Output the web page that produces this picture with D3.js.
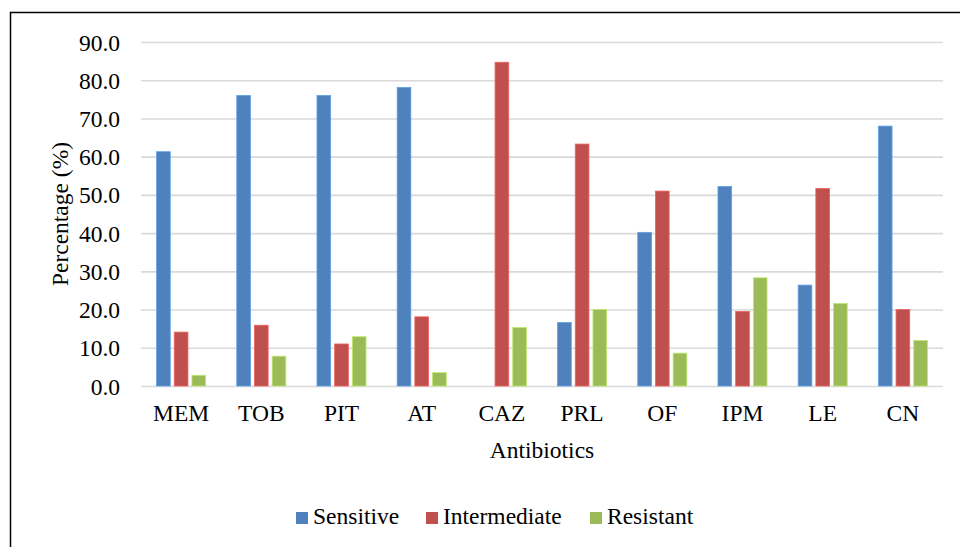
<!DOCTYPE html>
<html lang="en">
<head>
<meta charset="UTF-8">
<title>Antibiotic susceptibility</title>
<script src="https://d3js.org/d3.v7.min.js"></script>
<style>
  body { margin: 0; padding: 0; background: #fff; }
  svg text { font-family: "Liberation Serif", "Times New Roman", serif !important; fill: #000; }
</style>
</head>
<body>
<div id="chart"></div>
<script>
// data
const antibiotics = ["MEM", "TOB", "PIT", "AT", "CAZ", "PRL", "OF", "IPM", "LE", "CN"];
const seriesNames = ["Sensitive", "Intermediate", "Resistant"];
const sensitive    = [61.3, 76.0, 76.0, 78.1, 0.0, 16.6, 40.2, 52.2, 26.4, 68.0];
const intermediate = [14.1, 15.9, 11.0, 18.1, 84.7, 63.3, 51.0, 19.5, 51.7, 20.0];
const resistant    = [2.8, 7.8, 12.9, 3.5, 15.3, 20.0, 8.6, 28.3, 21.6, 11.9];
const yTicks = [0, 10, 20, 30, 40, 50, 60, 70, 80, 90];
const colors = ["#4F81BD", "#C0504D", "#9BBB59"];

const W = 960, H = 547;
const margin = {top: 42, right: 17, bottom: 161, left: 141};
const width = W - margin.left - margin.right,
      height = H - margin.top - margin.bottom;

const svg = d3.select("#chart").append("svg")
    .attr("width", W)
    .attr("height", H);

// outer frame (runs off the right and bottom of the picture)
svg.append("rect")
    .attr("x", 10.5).attr("y", 12.5)
    .attr("width", 1000).attr("height", 600)
    .attr("fill", "none")
    .attr("stroke", "#000")
    .attr("stroke-width", 1.5);

const g = svg.append("g")
    .attr("transform", `translate(${margin.left},${margin.top})`);

const rows = antibiotics.map((name, i) => ({
  name: name,
  values: [sensitive[i], intermediate[i], resistant[i]]
}));

const x0 = d3.scaleBand().domain(antibiotics).range([0, width]);
const x1 = d3.scaleBand().domain(seriesNames)
    .range([0, x0.bandwidth()])
    .paddingInner(0.226)
    .paddingOuter(0.88);
const y = d3.scaleLinear().domain([0, 90]).range([height, 0]);

// gridlines + tick labels
const yAxis = g.append("g")
    .call(d3.axisLeft(y).tickValues(yTicks).tickFormat(d3.format(".1f")).tickSize(-width).tickPadding(21));
yAxis.select(".domain").remove();
yAxis.selectAll("line").attr("stroke", "#D9D9D9").attr("stroke-width", 1.6);
yAxis.selectAll("text")
    .attr("font-size", "23.5px")
    .attr("dy", "0.34em");

// bars
g.selectAll(".group")
  .data(rows)
  .join("g")
    .attr("class", "group")
    .attr("transform", d => `translate(${x0(d.name)},0)`)
  .selectAll("rect")
  .data(d => d.values.map((v, i) => ({key: seriesNames[i], value: v, i: i})))
  .join("rect")
    .attr("x", d => x1(d.key))
    .attr("y", d => y(d.value))
    .attr("width", x1.bandwidth())
    .attr("height", d => height - y(d.value))
    .attr("fill", d => colors[d.i])
    .attr("stroke", d => d.value > 0 ? d3.color(colors[d.i]).brighter(0.6) : "none")
    .attr("stroke-width", 0.8);

// category labels
const xAxis = g.append("g")
    .attr("transform", `translate(0,${height})`)
    .call(d3.axisBottom(x0).tickSize(0).tickPadding(35));
xAxis.select(".domain").remove();
xAxis.selectAll("text")
    .attr("font-size", "23.5px")
    .attr("dy", "0");

// axis titles
svg.append("text")
    .attr("x", 542).attr("y", 458)
    .attr("text-anchor", "middle")
    .attr("font-size", "23.5px")
    .text("Antibiotics");

svg.append("text")
    .attr("transform", "translate(68,214) rotate(-90)")
    .attr("text-anchor", "middle")
    .attr("font-size", "23.5px")
    .text("Percentage (%)");

// legend
const legendX = [296, 426, 590];
const legend = svg.append("g").selectAll("g")
  .data(seriesNames)
  .join("g")
    .attr("transform", (d, i) => `translate(${legendX[i]},512)`);
legend.append("rect")
    .attr("width", 12).attr("height", 12)
    .attr("fill", (d, i) => colors[i]);
legend.append("text")
    .attr("x", 17).attr("y", 12.3)
    .attr("font-size", "23.5px")
    .text(d => d);
</script>
</body>
</html>
